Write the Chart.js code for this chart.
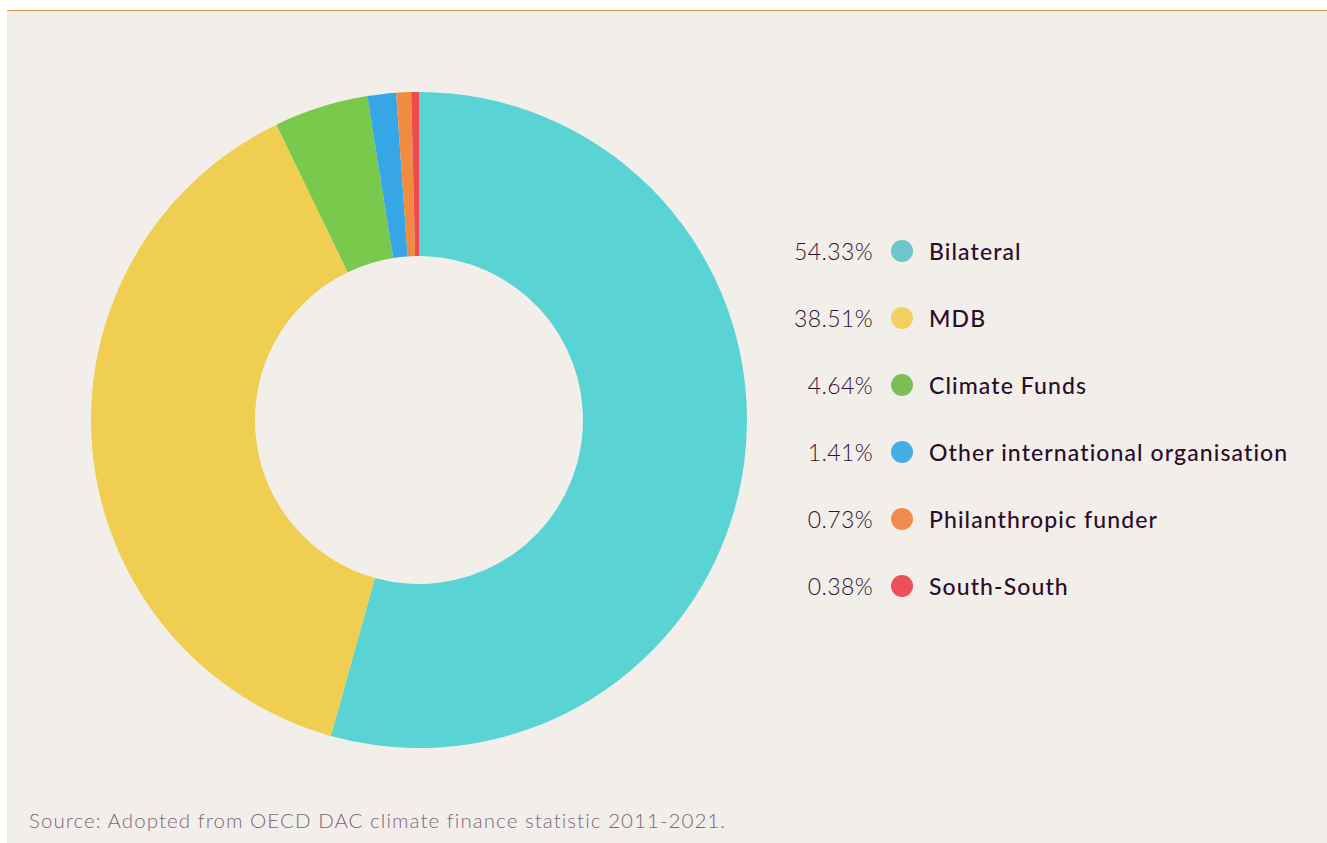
<!DOCTYPE html>
<html>
<head>
<meta charset="utf-8">
<title>Climate finance by channel</title>
<script src="https://cdn.jsdelivr.net/npm/chart.js@4/dist/chart.umd.min.js"></script>
<style>
    html, body {
        margin: 0;
        padding: 0;
        background: #ffffff;
    }
    #panel {
        position: absolute;
        left: 7px;
        top: 10px;
        width: 1320px;
        height: 833px;
        background: #f2efea;
        border-top: 1px solid #d99b52;
        box-sizing: border-box;
        font-family: Lato, "Open Sans", sans-serif;
    }
    #chart-wrap {
        position: absolute;
        left: 84px;
        top: 81px;
        width: 656px;
        height: 656px;
    }
    #legend {
        position: absolute;
        left: 0;
        top: 0;
    }
    .legend-row {
        position: absolute;
        height: 30px;
        line-height: 30px;
        white-space: nowrap;
        color: #2c0c2a;
        font-size: 23px;
    }
    .legend-pct {
        position: absolute;
        width: 120px;
        text-align: right;
        font-weight: 300;
        letter-spacing: 0.4px;
        color: #32122f;
    }
    .legend-dot {
        position: absolute;
        width: 22px;
        height: 22px;
        border-radius: 50%;
        top: 4px;
    }
    .legend-label {
        position: absolute;
        font-weight: 500;
        letter-spacing: 1.1px;
    }
    #source {
        position: absolute;
        left: 22px;
        top: 797px;
        font-size: 20.5px;
        font-weight: 300;
        letter-spacing: 1.05px;
        color: #82637f;
        white-space: nowrap;
    }
</style>
</head>
<body>
<div id="panel">
    <div id="chart-wrap"><canvas id="channelChart" width="656" height="656"></canvas></div>
    <div id="legend"></div>
    <div id="source">Source: Adopted from OECD DAC climate finance statistic 2011-2021.</div>
</div>

<script>
(function () {

    // share of climate finance by channel, in percent
    var channels = ["Bilateral", "MDB", "Climate Funds", "Other international organisation", "Philanthropic funder", "South-South"];
    var shares = [54.33, 38.51, 4.64, 1.41, 0.73, 0.38];

    var sliceColors = ["#59d3d3", "#f0ce51", "#79c94d", "#37a6e7", "#f18b40", "#ef4a4c"];
    var dotColors = ["#6cc6cc", "#f2d060", "#7dbf57", "#46ade3", "#f28b4d", "#ec505a"];

    var channelChart;

    initializeChart();
    buildLegend();

    function initializeChart() {
        var ctx = document.getElementById("channelChart").getContext("2d");

        channelChart = new Chart(ctx, {
            type: "doughnut",
            data: {
                labels: channels,
                datasets: [
                    {
                        data: shares,
                        backgroundColor: sliceColors,
                        borderWidth: 0,
                        hoverOffset: 0
                    }
                ]
            },
            options: {
                responsive: false,
                animation: false,
                cutout: "50%",
                rotation: 0,
                layout: { padding: 0 },
                plugins: {
                    legend: { display: false },
                    tooltip: { enabled: false }
                }
            }
        });
    }

    // rows down the right side: value, coloured dot, channel name
    function buildLegend() {
        var legend = document.getElementById("legend");
        var firstRow = 225;
        var rowStep = 67;

        for (var i = 0; i < channels.length; i++) {
            var row = document.createElement("div");
            row.className = "legend-row";
            row.style.top = (firstRow + i * rowStep) + "px";
            row.style.left = "0px";

            var pct = document.createElement("span");
            pct.className = "legend-pct";
            pct.style.left = "746px";
            pct.textContent = shares[i].toFixed(2) + "%";

            var dot = document.createElement("span");
            dot.className = "legend-dot";
            dot.style.left = "884px";
            dot.style.background = dotColors[i];

            var label = document.createElement("span");
            label.className = "legend-label";
            label.style.left = "922px";
            label.textContent = channels[i];

            row.appendChild(pct);
            row.appendChild(dot);
            row.appendChild(label);
            legend.appendChild(row);
        }
    }

})();
</script>
</body>
</html>
